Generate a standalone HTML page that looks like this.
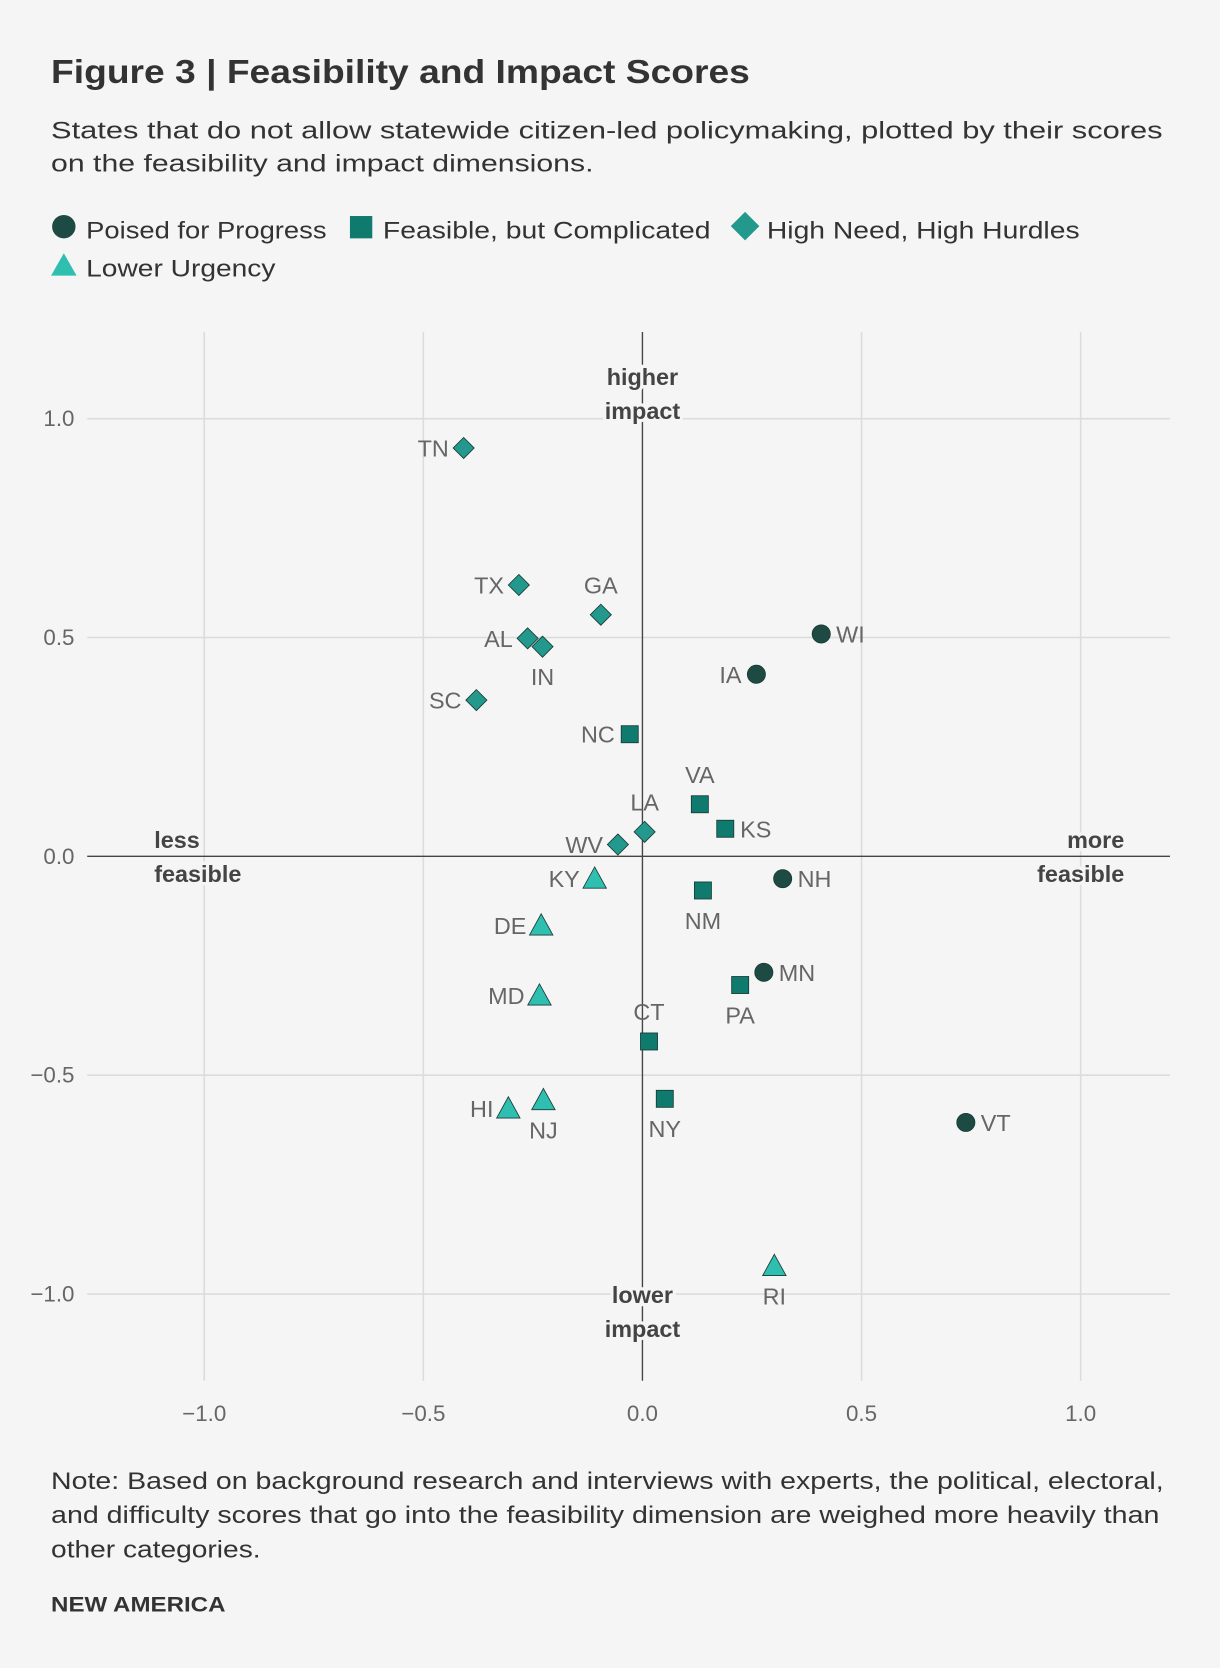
<!DOCTYPE html>
<html><head><meta charset="utf-8"><style>
html,body{margin:0;padding:0;background:#f5f5f5;}
svg{display:block;font-family:"Liberation Sans",sans-serif;}
</style></head><body>
<svg id="chart" width="1220" height="1668" viewBox="0 0 1147 1568" xmlns="http://www.w3.org/2000/svg">
<rect width="1147" height="1568" fill="#f5f5f5"/>
<text x="48" y="78" font-size="31" font-weight="bold" fill="#333" textLength="657" lengthAdjust="spacingAndGlyphs">Figure 3 | Feasibility and Impact Scores</text>
<text x="48" y="130" font-size="23" fill="#333" textLength="1045" lengthAdjust="spacingAndGlyphs">States that do not allow statewide citizen-led policymaking, plotted by their scores</text>
<text x="48" y="161" font-size="23" fill="#333" textLength="510" lengthAdjust="spacingAndGlyphs">on the feasibility and impact dimensions.</text>
<g>
 <g><circle cx="60" cy="213" r="11" fill="#1e4a44"/><text x="81" y="224" font-size="23" fill="#333" textLength="226" lengthAdjust="spacingAndGlyphs">Poised for Progress</text></g>
 <g><rect x="329" y="203" width="21" height="21" fill="#0f7a6e"/><text x="360" y="224" font-size="23" fill="#333" textLength="308" lengthAdjust="spacingAndGlyphs">Feasible, but Complicated</text></g>
 <g><rect x="691" y="203" width="19" height="19" fill="#22998c" transform="rotate(45 700.5 212.5)"/><text x="721" y="224" font-size="23" fill="#333" textLength="294" lengthAdjust="spacingAndGlyphs">High Need, High Hurdles</text></g>
 <g><polygon points="60,238 72,259 48,259" fill="#2fbfb0"/><text x="81" y="260" font-size="23" fill="#333" textLength="178" lengthAdjust="spacingAndGlyphs">Lower Urgency</text></g>
</g>
<g id="grid"></g>
<g id="ticks"></g>
<g id="axislabels"></g>
<g id="points"></g>
<text x="48" y="1400" font-size="23" fill="#333" textLength="1046" lengthAdjust="spacingAndGlyphs">Note: Based on background research and interviews with experts, the political, electoral,</text>
<text x="48" y="1432" font-size="23" fill="#333" textLength="1042" lengthAdjust="spacingAndGlyphs">and difficulty scores that go into the feasibility dimension are weighed more heavily than</text>
<text x="48" y="1464" font-size="23" fill="#333" textLength="197" lengthAdjust="spacingAndGlyphs">other categories.</text>
<text x="48" y="1515" font-size="20" font-weight="bold" fill="#333" textLength="164" lengthAdjust="spacingAndGlyphs">NEW AMERICA</text>
</svg>
<script>
const states = ["TN","TX","GA","AL","IN","SC","NC","WI","IA","VA","KS","LA","WV","KY","NH","NM","DE","MN","PA","MD","CT","HI","NJ","NY","VT","RI"];
const feasibility = [-0.408,-0.282,-0.095,-0.262,-0.228,-0.379,-0.029,0.408,0.260,0.131,0.189,0.005,-0.056,-0.109,0.320,0.138,-0.231,0.277,0.223,-0.235,0.015,-0.306,-0.226,0.051,0.738,0.301];
const impact = [0.933,0.620,0.552,0.498,0.479,0.357,0.279,0.508,0.416,0.119,0.063,0.056,0.027,-0.051,-0.051,-0.078,-0.158,-0.265,-0.294,-0.318,-0.423,-0.576,-0.557,-0.554,-0.608,-0.936];
const groups = ["D","D","D","D","D","D","S","C","C","S","S","D","D","T","C","S","T","C","S","T","S","T","T","S","C","T"];
const labelSide = ["l","l","t","l","b","l","l","r","l","t","r","t","l","l","r","b","l","r","b","l","t","l","b","b","r","b"];
const xTicks = [-1.0,-0.5,0.0,0.5,1.0];
const yTicks = [1.0,0.5,0.0,-0.5,-1.0];
const xTickLabels = ["\u22121.0","\u22120.5","0.0","0.5","1.0"];
const yTickLabels = ["1.0","0.5","0.0","\u22120.5","\u22121.0"];

const NS="http://www.w3.org/2000/svg";
const X0=604, XU=412, Y0=805, YU=411.5, L=82, R=1100, T=312, B=1298;
const sx=v=>X0+v*XU, sy=v=>Y0-v*YU;
function mk(tag,attrs,parent,text){const e=document.createElementNS(NS,tag);for(const k in attrs)e.setAttribute(k,attrs[k]);if(text!==undefined)e.textContent=text;parent.appendChild(e);return e;}
const grid=document.getElementById('grid'), ticks=document.getElementById('ticks'), pts=document.getElementById('points'), al=document.getElementById('axislabels');
xTicks.forEach((v,i)=>{
 if(v!==0){const l=mk('line',{x1:sx(v),x2:sx(v),y1:T,y2:B,stroke:'#dcdcdc','stroke-width':1.5},grid);
 
 }
 const t=mk('text',{x:sx(v),y:1336,'text-anchor':'middle','font-size':21,fill:'#666'},ticks,xTickLabels[i]);
 
 
});
yTicks.forEach((v,i)=>{
 if(v!==0){const l=mk('line',{x1:L,x2:R,y1:sy(v),y2:sy(v),stroke:'#dcdcdc','stroke-width':1.5},grid);
 
 }
 const t=mk('text',{x:70,y:sy(v)+7,'text-anchor':'end','font-size':21,fill:'#666'},ticks,yTickLabels[i]);
 
 
});
const xa=mk('line',{x1:L,x2:R,y1:sy(0),y2:sy(0),stroke:'#444','stroke-width':1.3},grid);


const ya=mk('line',{x1:sx(0),x2:sx(0),y1:T,y2:B,stroke:'#444','stroke-width':1.3},grid);


const ann=[["higher",604,362,'middle'],["impact",604,394,'middle'],["less",145,797,'start'],["feasible",145,829,'start'],["more",1057,797,'end'],["feasible",1057,829,'end'],["lower",604,1225,'middle'],["impact",604,1257,'middle']];
ann.forEach(a=>{
 const t=mk('text',{x:a[1],y:a[2],'text-anchor':a[3],'font-size':22,'font-weight':'bold',fill:'#444',stroke:'#f5f5f5','stroke-width':6,'paint-order':'stroke'},al,a[0]);
 
 
});
const colors={C:'#1e4a44',S:'#0f7a6e',D:'#22998c',T:'#2fbfb0'};
states.forEach((s,i)=>{
 const x=sx(feasibility[i]), y=sy(impact[i]), g=groups[i]; let m;
 if(g==='C') m=mk('circle',{cx:x,cy:y,r:8.5},pts);
 else if(g==='S') m=mk('rect',{x:x-8,y:y-8,width:16,height:16},pts);
 else if(g==='D') m=mk('rect',{x:x-7,y:y-7,width:14,height:14,transform:`rotate(45 ${x} ${y})`},pts);
 else m=mk('polygon',{points:`${x},${y-11} ${x+11},${y+9} ${x-11},${y+9}`},pts);
 m.setAttribute('fill',colors[g]);m.setAttribute('stroke','#1a3a36');m.setAttribute('stroke-width','0.8');
 
 
 const side=labelSide[i]; let a={'font-size':22,fill:'#666'};
 if(side==='l'){a.x=x-14;a.y=y+8;a['text-anchor']='end';}
 else if(side==='r'){a.x=x+14;a.y=y+8;a['text-anchor']='start';}
 else if(side==='t'){a.x=x;a.y=y-20;a['text-anchor']='middle';}
 else {a.x=x;a.y=y+36;a['text-anchor']='middle';}
 const t=mk('text',a,pts,s);
 
 
});
</script>
</body></html>
